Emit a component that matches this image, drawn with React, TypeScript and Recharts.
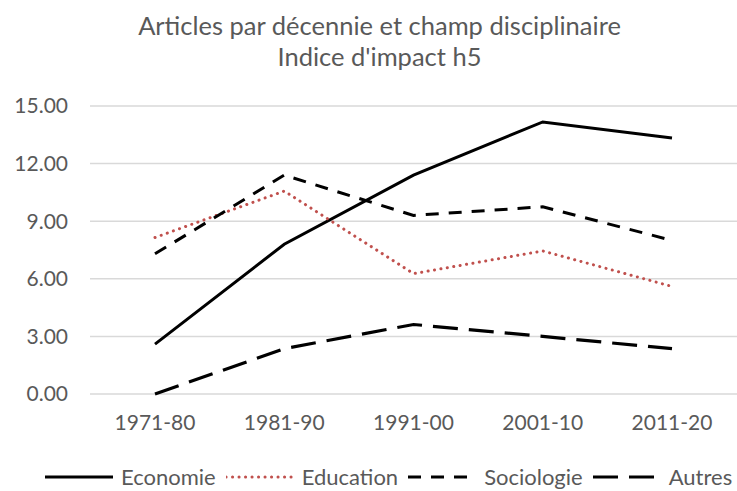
import React from 'react';
import { LineChart, Line, XAxis, YAxis, CartesianGrid, Legend } from 'recharts';

const categories = ['1971-80', '1981-90', '1991-00', '2001-10', '2011-20'];
const economie = [2.6, 7.8, 11.4, 14.17, 13.33];
const education = [8.15, 10.57, 6.27, 7.45, 5.6];
const sociologie = [7.3, 11.4, 9.3, 9.75, 8.0];
const autres = [0, 2.36, 3.62, 3.0, 2.36];
const seriesNames = ['Economie', 'Education', 'Sociologie', 'Autres'];
const yTicks = [0, 3, 6, 9, 12, 15];
const titleLines = ['Articles par décennie et champ disciplinaire', "Indice d'impact h5"];

const data = categories.map((c, i) => ({
  cat: c,
  Economie: economie[i],
  Education: education[i],
  Sociologie: sociologie[i],
  Autres: autres[i],
}));

const FONT = 'Lato, "Liberation Sans", sans-serif';
const TEXT = '#595959';

const LegendContent = (props: any) => {
  const payload = [...(props.payload || [])].sort(
    (a: any, b: any) => seriesNames.indexOf(a.value) - seriesNames.indexOf(b.value)
  );
  return (
    <div style={{ display: 'flex', justifyContent: 'flex-start', alignItems: 'center', fontFamily: FONT, fontSize: 22, color: TEXT, height: 32, paddingLeft: 45 }}>
      {payload.map((p: any) => (
        <div key={p.value} style={{ display: 'flex', alignItems: 'center', marginRight: 10 }}>
          <svg width={68} height={10} style={{ display: 'block' }}>
            <line x1={0} y1={5} x2={68} y2={5} stroke={p.color} strokeWidth={p.payload.strokeWidth}
              strokeDasharray={p.payload.strokeDasharray} strokeLinecap={p.payload.strokeLinecap || 'butt'} />
          </svg>
          <span style={{ marginLeft: 8, lineHeight: '32px' }}>{p.value}</span>
        </div>
      ))}
    </div>
  );
};

export default function App() {
  return (
    <div style={{ position: 'relative', width: 737, height: 491, background: '#fff', overflow: 'hidden' }}>
      <style>{'body{margin:0;}'}</style>
      <div style={{ position: 'absolute', top: 10, left: 11, width: 737, textAlign: 'center', fontFamily: FONT, fontSize: 25.5, color: TEXT, lineHeight: '31px' }}>
        {titleLines.map((t) => (<div key={t}>{t}</div>))}
      </div>
      <LineChart width={737} height={491} data={data} margin={{ top: 106, right: 0, left: 0, bottom: 25 }}>
        <CartesianGrid horizontal vertical={false} stroke="#D9D9D9" strokeWidth={1.5} />
        <XAxis dataKey="cat" axisLine={false} tickLine={false} tickSize={0} tickMargin={21} height={40}
          padding={{ left: 65, right: 65 }} interval={0}
          tick={{ fill: TEXT, fontSize: 21, fontFamily: FONT }} />
        <YAxis domain={[0, 15]} ticks={yTicks} axisLine={false} tickLine={false} tickSize={0} tickMargin={22} width={90}
          tickFormatter={(v: number) => v.toFixed(2)} interval={0}
          tick={{ fill: TEXT, fontSize: 21, fontFamily: FONT }} />
        <Line dataKey="Economie" stroke="#000000" strokeWidth={3} dot={false} isAnimationActive={false} />
        <Line dataKey="Education" stroke="#C0504D" strokeWidth={3} strokeDasharray="0.1 6.4" strokeLinecap="round" dot={false} isAnimationActive={false} />
        <Line dataKey="Sociologie" stroke="#000000" strokeWidth={3} strokeDasharray="13 10" dot={false} isAnimationActive={false} />
        <Line dataKey="Autres" stroke="#000000" strokeWidth={3.2} strokeDasharray="25 11" dot={false} isAnimationActive={false} />
        <Legend content={<LegendContent />} wrapperStyle={{ position: 'absolute', top: 461, left: 0, width: 737 }} />
      </LineChart>
    </div>
  );
}
